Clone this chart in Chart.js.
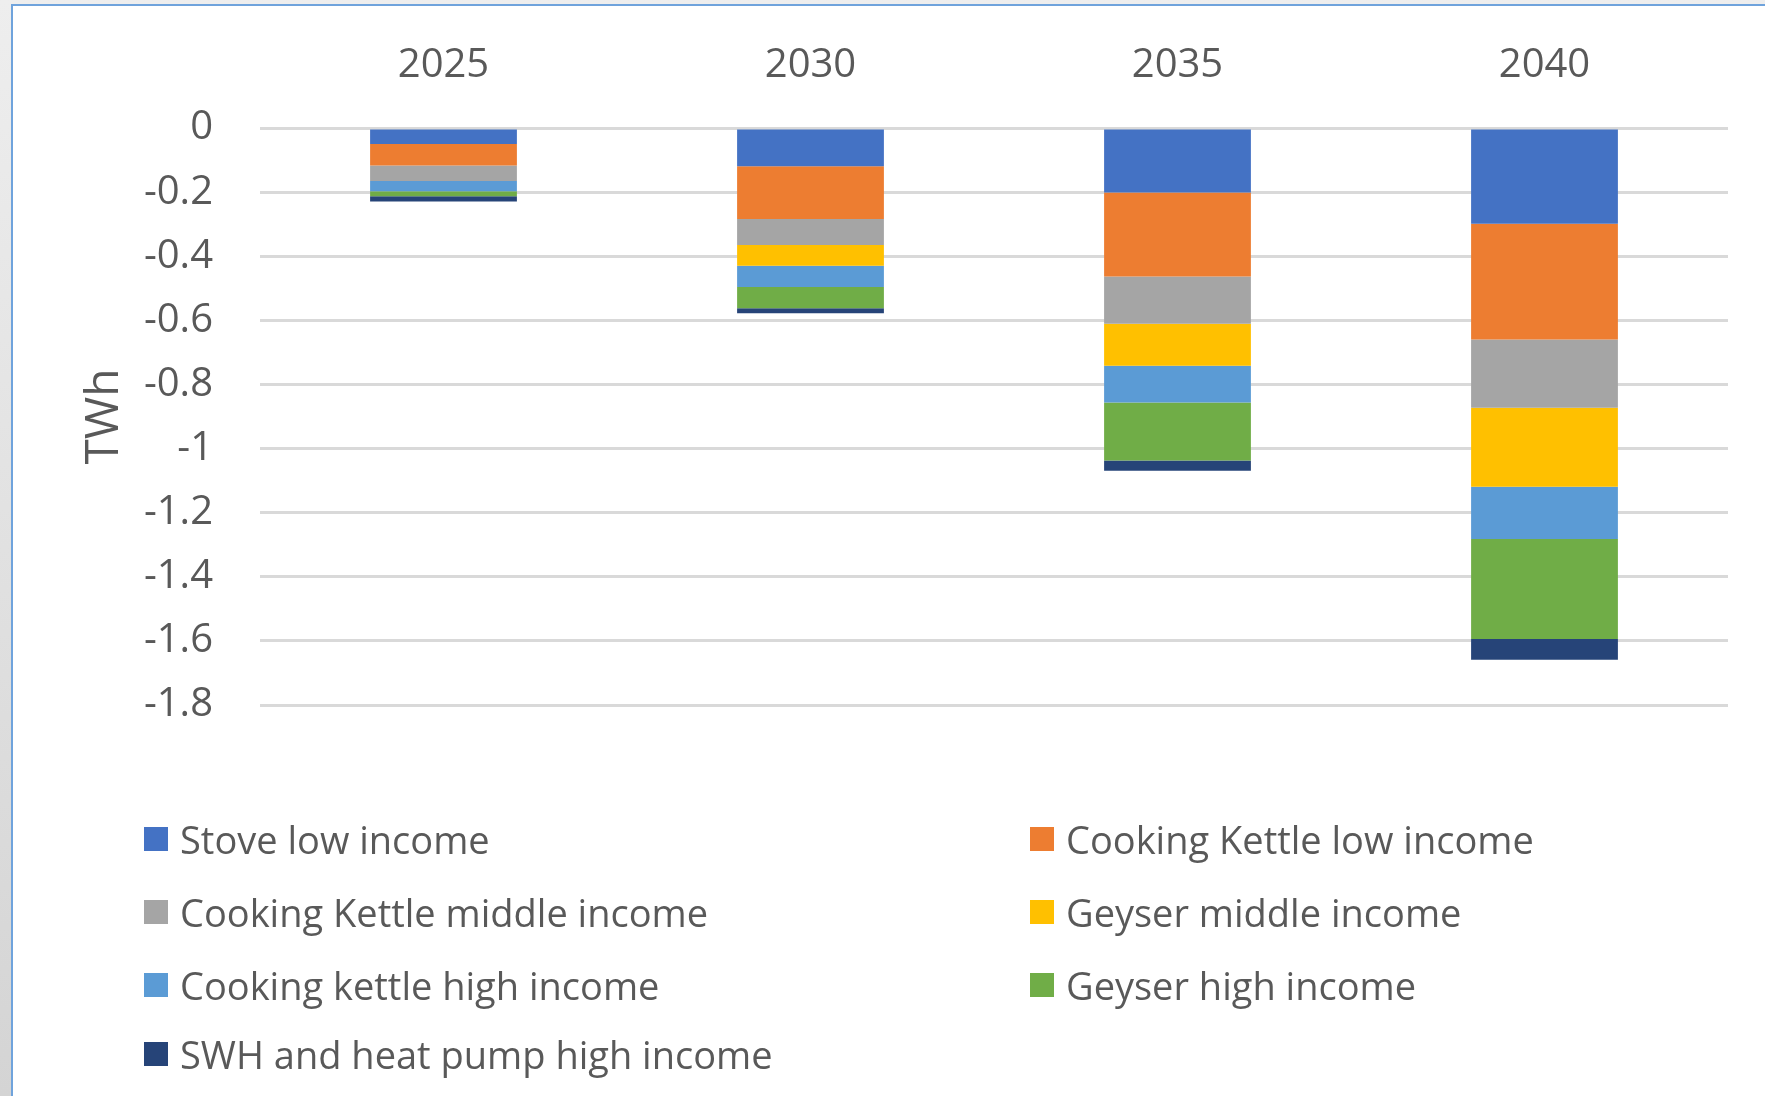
<!DOCTYPE html>
<html>
<head>
<meta charset="utf-8">
<script src="https://cdn.jsdelivr.net/npm/chart.js@4.4.1/dist/chart.umd.min.js"></script>
<style>
  html, body { margin: 0; padding: 0; }
  body {
    width: 1765px; height: 1096px; overflow: hidden; position: relative;
    background: linear-gradient(#eeeeee, #d4d4d4);
    font-family: 'Open Sans', sans-serif;
  }
  #cadre {
    position: absolute; left: 11px; top: 4px; right: 0; bottom: 0;
    background: #fff;
    border-top: 2px solid #6fa3dc;
    border-left: 2px solid #6fa3dc;
  }
  #zone { position: absolute; left: 0; top: 0; width: 1765px; height: 1096px; }
  #legende { position: absolute; left: 0; top: 0; width: 1765px; }
  .item {
    position: absolute; display: flex; align-items: center;
    font-size: 38px; color: #595959; white-space: nowrap; line-height: 1;
  }
  .item span.boite { width: 24px; height: 24px; margin-right: 12px; display: inline-block; }
</style>
</head>
<body>
<div id="cadre"></div>
<div id="zone"><canvas id="graphique"></canvas></div>
<div id="legende"></div>
<script>
// Categories (annees)
const annees = ['2025', '2030', '2035', '2040'];

const stoveLow        = [-0.050, -0.119, -0.201, -0.299];
const kettleLow       = [-0.067, -0.165, -0.262, -0.361];
const kettleMiddle    = [-0.048, -0.081, -0.148, -0.213];
const geyserMiddle    = [ 0.000, -0.065, -0.131, -0.246];
const kettleHigh      = [-0.032, -0.066, -0.114, -0.163];
const geyserHigh      = [-0.016, -0.066, -0.181, -0.312];
const swhHigh         = [-0.016, -0.016, -0.032, -0.065];

const nomsSeries = [
    'Stove low income',
    'Cooking Kettle low income',
    'Cooking Kettle middle income',
    'Geyser middle income',
    'Cooking kettle high income',
    'Geyser high income',
    'SWH and heat pump high income'
];
const couleurs = ['#4472C4', '#ED7D31', '#A5A5A5', '#FFC000', '#5B9BD5', '#70AD47', '#264478'];
const valeursSeries = [stoveLow, kettleLow, kettleMiddle, geyserMiddle, kettleHigh, geyserHigh, swhHigh];

// Graduations de l axe Y
const yMin = -1.8, yMax = 0, yPas = 0.2;

const gris = '#595959';
const police = "'Open Sans', sans-serif";

const canvas = document.getElementById('graphique');
canvas.width = 1765;
canvas.height = 1096;

const graphique = new Chart(canvas.getContext('2d'), {
    type: 'bar',
    data: {
        labels: annees,
        datasets: nomsSeries.map((nom, i) => ({
            label: nom,
            data: valeursSeries[i],
            backgroundColor: couleurs[i],
            borderWidth: 0,
            barPercentage: 0.4,
            categoryPercentage: 1.0,
        }))
    },
    options: {
        animation: false,
        responsive: false,
        maintainAspectRatio: false,
        layout: { padding: { left: 73, right: 37, top: 10, bottom: 391 } },
        scales: {
            x: {
                position: 'top',
                stacked: true,
                grid: { display: false },
                border: { display: false },
                ticks: { color: gris, font: { family: police, size: 40 }, padding: 30 },
                afterFit: s => { s.height = 118; }
            },
            y: {
                stacked: true,
                min: yMin, max: yMax,
                grid: { color: '#d9d9d9', lineWidth: 3, drawTicks: false },
                border: { display: false },
                ticks: {
                    stepSize: yPas,
                    color: gris,
                    padding: 47,
                    font: { family: police, size: 40 },
                    callback: v => String(Math.round(v * 10) / 10)
                },
                title: {
                    display: true, text: 'TWh', color: gris,
                    font: { family: police, size: 46 }, padding: { top: 4, bottom: 4 }
                },
                afterFit: s => { s.width = 187; }
            }
        },
        plugins: {
            legend: { display: false },
            tooltip: { enabled: false }
        }
    }
});

// Legende HTML en deux colonnes, construite depuis les datasets
const legende = document.getElementById('legende');
const colonnesX = [144, 1030];
const lignesY = [839, 912, 985, 1054];
graphique.data.datasets.forEach((ds, i) => {
    const item = document.createElement('div');
    item.className = 'item';
    item.style.left = colonnesX[i % 2] + 'px';
    item.style.top = (lignesY[Math.floor(i / 2)] - 19) + 'px';
    item.style.height = '38px';
    const boite = document.createElement('span');
    boite.className = 'boite';
    boite.style.background = ds.backgroundColor;
    const texte = document.createElement('span');
    texte.textContent = ds.label;
    item.appendChild(boite);
    item.appendChild(texte);
    legende.appendChild(item);
});
</script>
</body>
</html>
